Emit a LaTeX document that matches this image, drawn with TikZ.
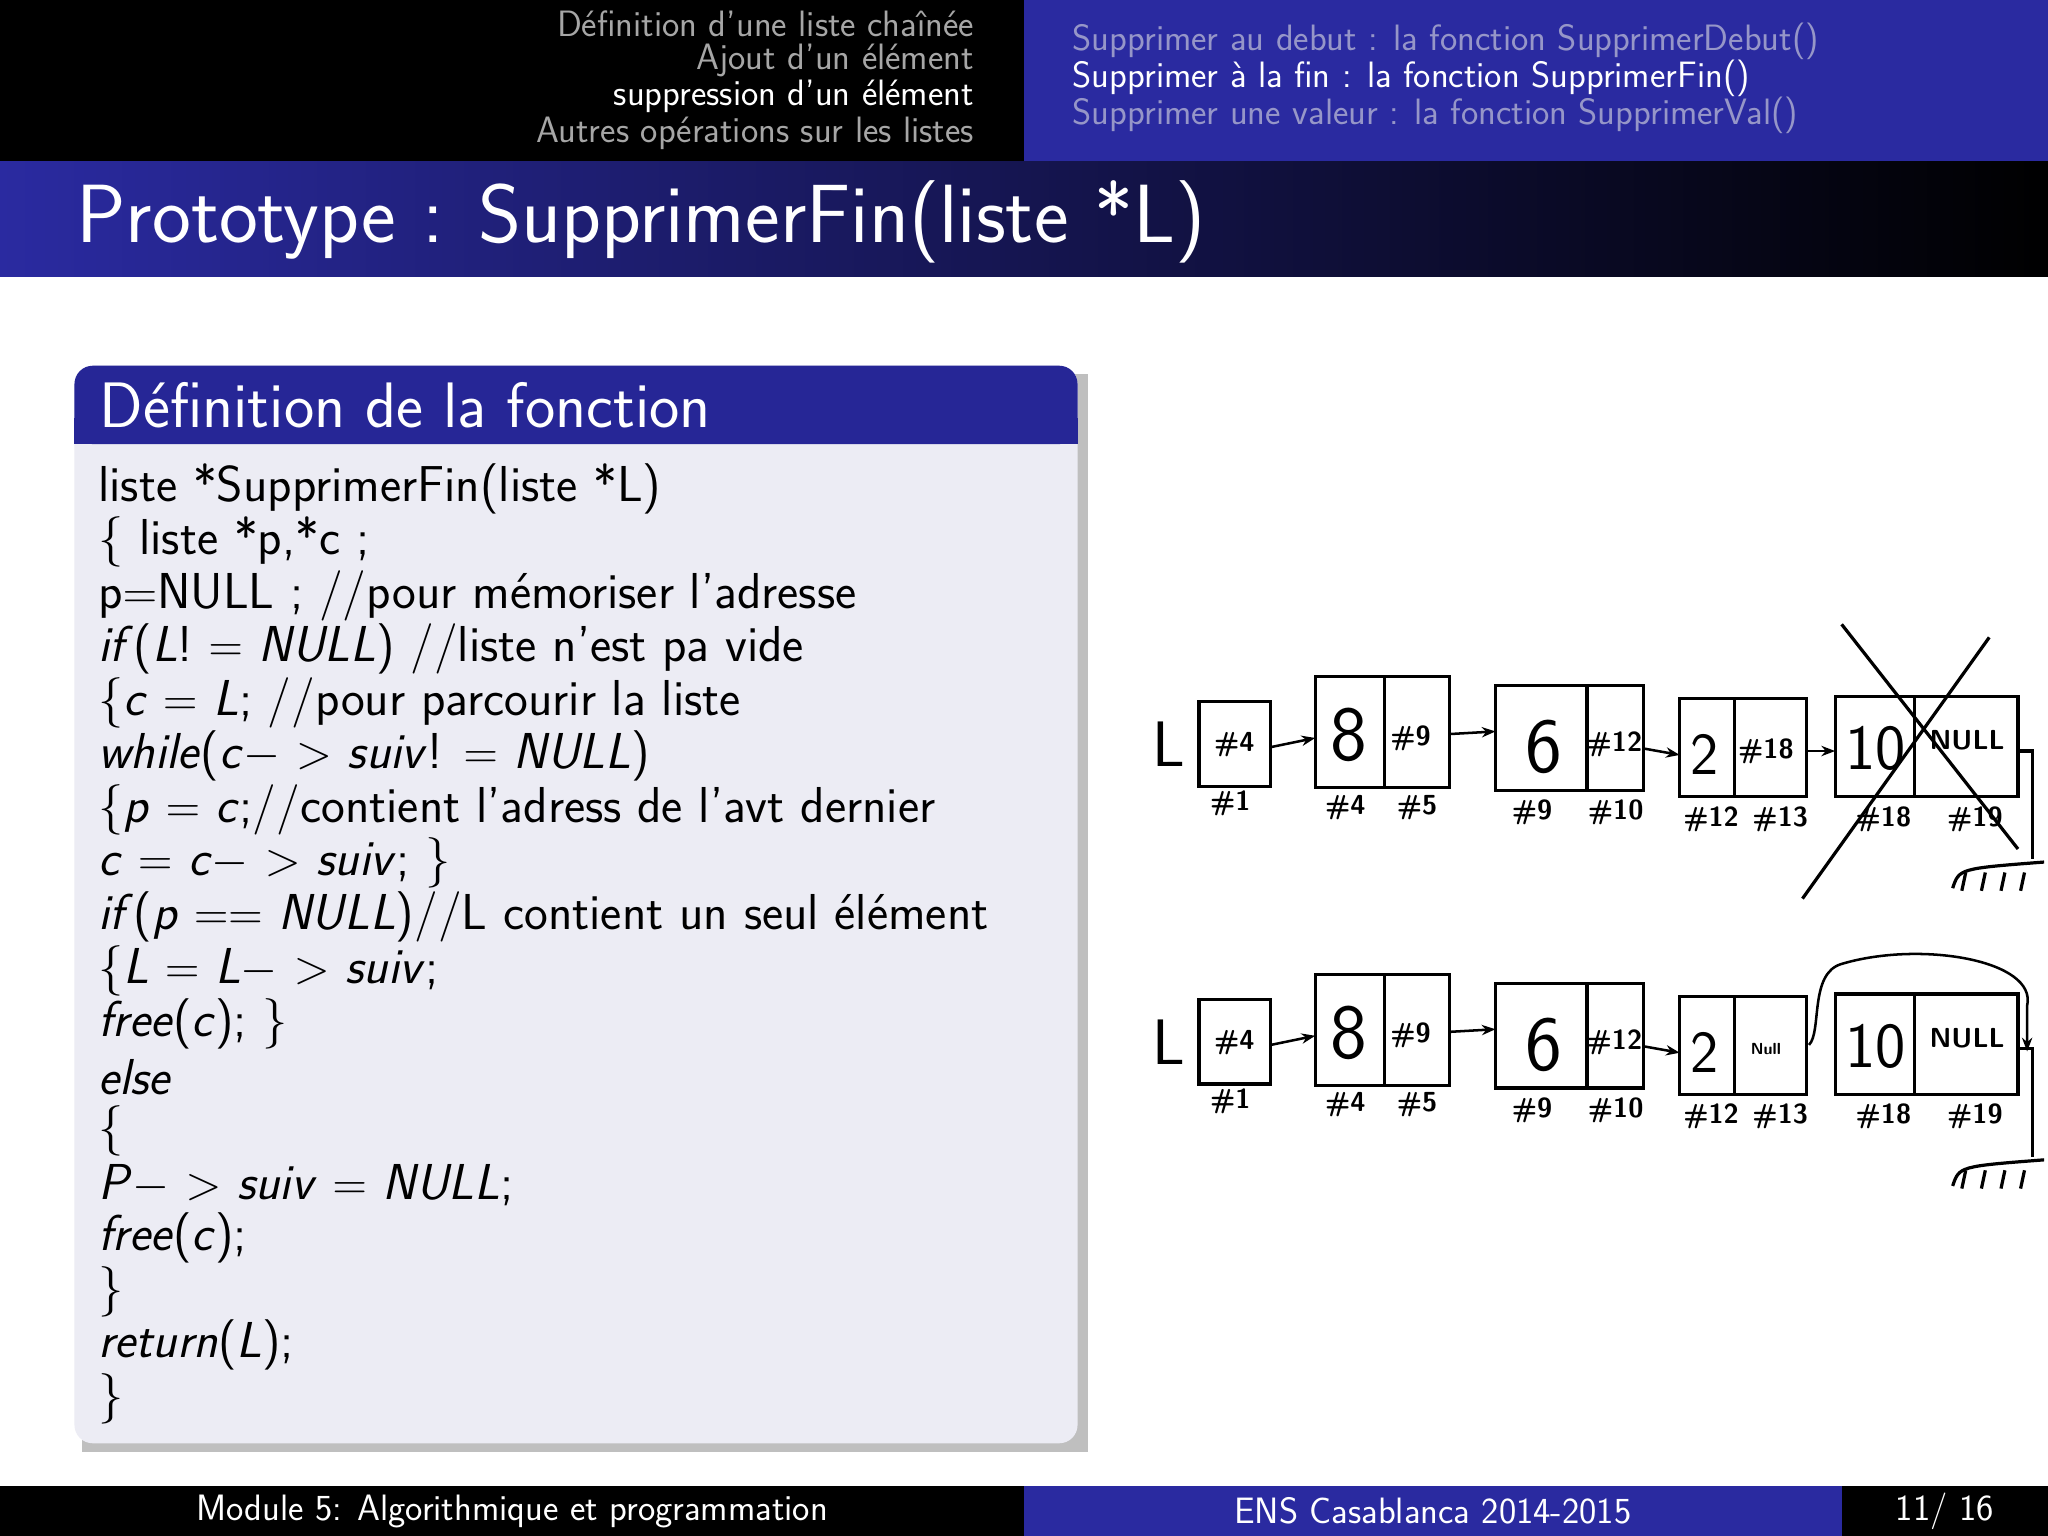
\documentclass[tikz,border=0pt]{standalone}
\usetikzlibrary{arrows.meta,shadows}
\definecolor{bblue}{RGB}{42,42,160}
\definecolor{hblue}{RGB}{38,38,150}
\definecolor{bodyg}{RGB}{236,236,244}
\definecolor{navg}{RGB}{150,150,200}
\newcommand{\vv}[1]{\textit{#1}}
\tikzset{
 px/.style={x=0.02cm,y=-0.02cm},
 navtxt/.style={anchor=east,font=\sffamily\fontsize{16}{17}\selectfont,text=gray!70,inner sep=0},
 subtxt/.style={anchor=west,font=\sffamily\fontsize{16}{17}\selectfont,text=navg,inner sep=0},
 code/.style={anchor=west,font=\sffamily\fontsize{22}{24}\selectfont,inner sep=0},
 cell/.style={draw,line width=1.4pt},
 lab/.style={font=\sffamily\bfseries\fontsize{12}{12}\selectfont,inner sep=0},
 big/.style={font=\sffamily\fontsize{24}{24}\selectfont,inner sep=0},
 arr/.style={-{Stealth[length=6pt]},line width=1.1pt},
 hand/.style={line width=1.4pt},
 foot/.style={text=white,font=\sffamily\fontsize{16}{16}\selectfont}
}
\begin{document}
\begin{tikzpicture}[px]
\useasboundingbox (0,0) rectangle (1568,1176);
\fill[white] (0,0) rectangle (1568,1176);
% top bars
\fill[black] (0,0) rectangle (784,124);
\fill[bblue] (784,0) rectangle (1568,124);
\node[navtxt] (n1) at (746,18) {Définition d'une liste chaînée};
\node[navtxt] (n2) at (746,46) {Ajout d'un élément};
\node[navtxt,text=white] (n3) at (746,74) {suppression d'un élément};
\node[navtxt] (n4) at (746,102) {Autres opérations sur les listes};
\node[subtxt] (s1) at (821,32) {Supprimer au debut : la fonction SupprimerDebut()};
\node[subtxt,text=white] (s2) at (821,60) {Supprimer à la fin : la fonction SupprimerFin()};
\node[subtxt] (s3) at (821,88) {Supprimer une valeur : la fonction SupprimerVal()};
% title
\shade[left color=bblue,right color=black] (0,124) rectangle (1568,212);
\node[anchor=west,text=white,font=\sffamily\fontsize{36}{36}\selectfont,inner sep=0] (title) at (58,170) {Prototype : SupprimerFin(liste *L)};
% block
\fill[black!25] (63,286) rectangle (833,1112);
\fill[bodyg,rounded corners=8pt] (57,280) rectangle (825,1105);
\fill[hblue,rounded corners=8pt] (57,280) rectangle (825,340);
\fill[hblue] (57,320) rectangle (825,340);
\node[anchor=west,text=white,font=\sffamily\fontsize{28}{28}\selectfont,inner sep=0] (bt) at (76,310) {Définition de la fonction};
\node[code] (c1) at (75,374) {liste *SupprimerFin(liste *L)};
\node[code] (c2) at (75,415) {\{ liste *p,*c ;};
\node[code] (c3) at (75,456) {p$=$NULL ; //pour mémoriser l'adresse};
\node[code] (c4) at (75,497) {\vv{if}(\vv{L}! $=$ \vv{NULL}) //liste n'est pa vide};
\node[code] (c5) at (75,538) {\{\vv{c} $=$ \vv{L}; //pour parcourir la liste};
\node[code] (c6) at (75,579) {\vv{while}(\vv{c}$-$ $>$ \vv{suiv}! $=$ \vv{NULL})};
\node[code] (c7) at (75,620) {\{\vv{p} $=$ \vv{c};//contient l'adress de l'avt dernier};
\node[code] (c8) at (75,661) {\vv{c} $=$ \vv{c}$-$ $>$ \vv{suiv}; \}};
\node[code] (c9) at (75,702) {\vv{if}(\vv{p} $==$ \vv{NULL})//L contient un seul élément};
\node[code] (c10) at (75,743) {\{\vv{L} $=$ \vv{L}$-$ $>$ \vv{suiv};};
\node[code] (c11) at (75,784) {\vv{free}(\vv{c}); \}};
\node[code] (c12) at (75,825) {\vv{else}};
\node[code] (c13) at (75,866) {\{};
\node[code] (c14) at (75,907) {\vv{P}$-$ $>$ \vv{suiv} $=$ \vv{NULL};};
\node[code] (c15) at (75,948) {\vv{free}(\vv{c});};
\node[code] (c16) at (75,989) {\}};
\node[code] (c17) at (75,1030) {\vv{return}(\vv{L});};
\node[code] (c18) at (75,1071) {\}};
% lists
\foreach \dy/\nm/\second in {0/a/{\#18},228/b/{\scriptsize Null}}{
\begin{scope}[yshift=-\dy*0.02cm]
\node[font=\sffamily\fontsize{28}{28}\selectfont,inner sep=0] (L\nm) at (895,570) {L};
\draw[cell] (918,537) rectangle (973,602);
\node[lab] (b1\nm) at (945,570) {\#4};
\node[lab] at (942,615) {\#1};
\draw[cell] (1007,518) rectangle (1110,603); \draw[cell] (1060,518)--(1060,603);
\node[big,font=\sffamily\fontsize{34}{34}\selectfont] (b2\nm) at (1033,563) {8};
\node[lab] at (1080,565) {\#9};
\node[lab] at (1030,618) {\#4}; \node[lab] at (1085,618) {\#5};
\draw[cell] (1145,525) rectangle (1258,605); \draw[cell] (1215,525)--(1215,605);
\node[big,font=\sffamily\fontsize{34}{34}\selectfont] (b3\nm) at (1182,572) {6};
\node[lab] at (1236,570) {\#12};
\node[lab] at (1173,622) {\#9}; \node[lab] at (1237,622) {\#10};
\draw[cell] (1286,535) rectangle (1383,610); \draw[cell] (1328,535)--(1328,610);
\node[big,font=\sffamily\fontsize{26}{26}\selectfont] (b4\nm) at (1305,578) {2};
\node[lab] at (1352,575) {\second};
\node[lab] at (1310,627) {\#12}; \node[lab] at (1363,627) {\#13};
\draw[cell] (1405,533) rectangle (1545,610); \draw[cell] (1466,533)--(1466,610);
\node[big,font=\sffamily\fontsize{28}{28}\selectfont] (b5\nm) at (1436,573) {10};
\node[lab] at (1506,567) {NULL};
\node[lab] at (1442,627) {\#18}; \node[lab] at (1512,627) {\#19};
\draw[arr] (973,572) -- (1007,565);
\draw[arr] (1110,562) -- (1145,560);
\draw[hand] (1545,575) -- (1556,575) -- (1556,658);
\draw[hand] (1495,680) .. controls (1500,665) .. (1565,660);
\foreach \g in {1505,1520,1535,1550} \draw[hand] (\g,668) -- (\g-3,682);
\end{scope}}
\draw[arr] (1258,573) -- (1286,578);
\draw[arr] (1383,575) -- (1405,575);
\draw[arr] (1258,801) -- (1286,806);
\draw[hand] (1410,478) -- (1545,650);
\draw[hand] (1523,488) -- (1380,688);
\draw[arr] (1385,800) .. controls (1395,790) and (1385,745) .. (1410,738) .. controls (1470,720) and (1560,735) .. (1552,770) -- (1552,805);
% footer
\fill[black] (0,1138) rectangle (784,1176);
\fill[bblue] (784,1138) rectangle (1410,1176);
\fill[black] (1410,1138) rectangle (1568,1176);
\node[foot] (f1) at (392,1157) {Module 5: Algorithmique et programmation};
\node[foot] (f2) at (1097,1157) {ENS Casablanca 2014-2015};
\node[foot] (f3) at (1489,1157) {11/ 16};
\end{tikzpicture}
\end{document}
